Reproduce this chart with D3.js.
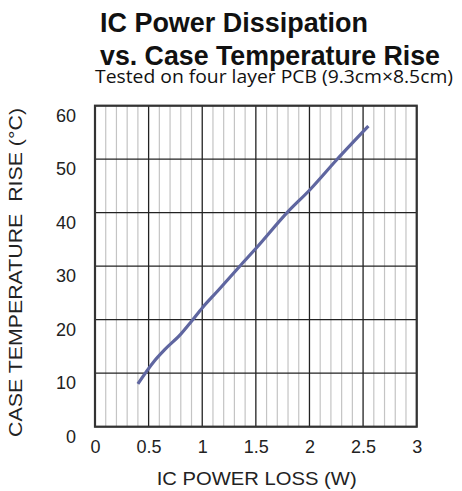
<!DOCTYPE html>
<html><head><meta charset="utf-8">
<script src="https://cdn.jsdelivr.net/npm/d3@7"></script>
<style>body{margin:0;background:#fff}svg{display:block}</style>
</head><body>
<script>
const powerLoss = [0.4, 0.55, 0.65, 0.8, 0.9, 1.0, 1.15, 1.35, 1.5, 1.8, 2.0, 2.25, 2.55];
const tempRise  = [8.0, 12.2, 14.4, 17.3, 19.7, 22.2, 25.5, 30.0, 33.3, 40.2, 44.2, 49.8, 56.2];
const xTicks = [0, 0.5, 1, 1.5, 2, 2.5, 3];
const xTickLabels = ["0", "0.5", "1", "1.5", "2", "2.5", "3"];
const yTicks = [0, 10, 20, 30, 40, 50, 60];
const xMinor = d3.range(0, 31).map(i => i / 10);

const W = 462, H = 491;
const svg = d3.select("body").append("svg").attr("width", W).attr("height", H);
const x = d3.scaleLinear().domain([0, 3]).range([95, 416.7]);
const y = d3.scaleLinear().domain([0, 60]).range([426.7, 105.7]);

svg.append("g").selectAll("line").data(xMinor.filter((d, i) => i % 5 !== 0)).join("line")
  .attr("x1", d => x(d)).attr("x2", d => x(d)).attr("y1", y(0)).attr("y2", y(60))
  .attr("stroke", "#c4c4c4").attr("stroke-width", 1.2);
svg.append("g").selectAll("line").data(xTicks).join("line")
  .attr("x1", d => x(d)).attr("x2", d => x(d)).attr("y1", y(0)).attr("y2", y(60))
  .attr("stroke", "#222").attr("stroke-width", 1.3);
svg.append("g").selectAll("line").data(yTicks).join("line")
  .attr("x1", x(0)).attr("x2", x(3)).attr("y1", d => y(d)).attr("y2", d => y(d))
  .attr("stroke", "#222").attr("stroke-width", 1.3);
svg.append("rect").attr("x", x(0)).attr("y", y(60)).attr("width", x(3) - x(0)).attr("height", y(0) - y(60))
  .attr("fill", "none").attr("stroke", "#333").attr("stroke-width", 2.2);

const xAxis = svg.append("g").attr("transform", `translate(0,${y(0)})`)
  .call(d3.axisBottom(x).tickValues(xTicks).tickFormat((d, i) => xTickLabels[i]).tickSize(0).tickPadding(14));
xAxis.select(".domain").remove();
xAxis.selectAll("text").attr("font-family", "Liberation Sans, Arial, sans-serif").attr("font-size", 18).attr("fill", "#222");

const yAxis = svg.append("g").attr("transform", `translate(${x(0)},0)`)
  .call(d3.axisLeft(y).tickValues(yTicks).tickFormat(d3.format("d")).tickSize(0).tickPadding(19));
yAxis.select(".domain").remove();
yAxis.selectAll("text").attr("font-family", "Liberation Sans, Arial, sans-serif").attr("font-size", 18).attr("fill", "#222").attr("dy", "0.85em");

svg.append("path").datum(powerLoss.map((p, i) => [p, tempRise[i]]))
  .attr("d", d3.line().x(d => x(d[0])).y(d => y(d[1])).curve(d3.curveMonotoneX))
  .attr("fill", "none").attr("stroke", "#5f66a0").attr("stroke-width", 3.2).attr("stroke-linecap", "butt");

svg.append("text").attr("x", 100).attr("y", 31.5).text("IC Power Dissipation")
  .attr("font-family", "Liberation Sans, Arial, sans-serif").attr("font-weight", "bold").attr("font-size", 27.5)
  .attr("fill", "#111").attr("textLength", 268).attr("lengthAdjust", "spacingAndGlyphs");
svg.append("text").attr("x", 100).attr("y", 64.5).text("vs. Case Temperature Rise")
  .attr("font-family", "Liberation Sans, Arial, sans-serif").attr("font-weight", "bold").attr("font-size", 27.5)
  .attr("fill", "#111").attr("textLength", 340).attr("lengthAdjust", "spacingAndGlyphs");
svg.append("text").attr("x", 95).attr("y", 83).text("Tested on four layer PCB (9.3cm×8.5cm)")
  .attr("font-family", "Open Sans, sans-serif").attr("font-size", 17.5)
  .attr("fill", "#111").attr("textLength", 358).attr("lengthAdjust", "spacingAndGlyphs");

svg.append("text").attr("x", 256.7).attr("y", 485).attr("text-anchor", "middle").text("IC POWER LOSS (W)")
  .attr("font-family", "Liberation Sans, Arial, sans-serif").attr("font-size", 18.5).attr("fill", "#222")
  .attr("textLength", 200).attr("lengthAdjust", "spacingAndGlyphs");
svg.append("text").attr("transform", "translate(22,272.5) rotate(-90)").attr("text-anchor", "middle")
  .style("white-space", "pre")
  .text("CASE TEMPERATURE  RISE (°C)")
  .attr("font-family", "Liberation Sans, Arial, sans-serif").attr("font-size", 18.5).attr("fill", "#222")
  .attr("textLength", 329).attr("lengthAdjust", "spacingAndGlyphs");
</script>
</body></html>
